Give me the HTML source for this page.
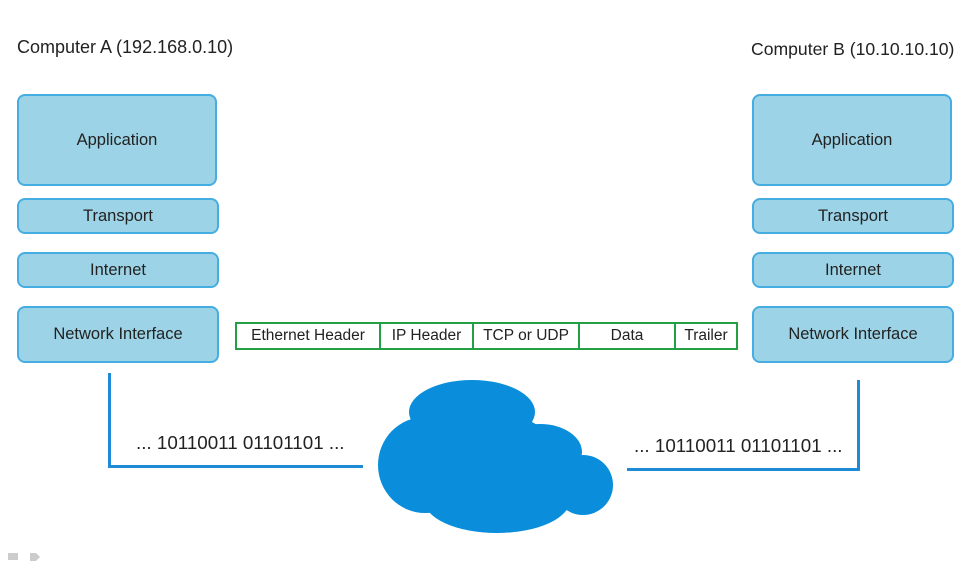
<!DOCTYPE html>
<html><head><style>
body{margin:0;width:968px;height:567px;background:#fff;position:relative;overflow:hidden;font-family:"Liberation Sans",sans-serif;color:#222}
.b{position:absolute;background:#9dd3e6;border:2px solid #45ade2;border-radius:8px;box-sizing:border-box;display:flex;align-items:center;justify-content:center;font-size:16.5px}
.t{position:absolute;font-size:18px;white-space:nowrap}
.p{position:absolute;top:322px;height:28px;border:2.5px solid #23a044;box-sizing:border-box;display:flex}
.p div{border-right:2.5px solid #23a044;display:flex;align-items:center;justify-content:center;font-size:15.5px;box-sizing:border-box}
.p div:last-child{border-right:none}
.l{position:absolute;background:#1f8ad6}
.bin{position:absolute;font-size:18.8px;white-space:nowrap}
</style></head><body>
<div class="t" style="left:17px;top:37px">Computer A (192.168.0.10)</div>
<div class="t" style="left:751px;top:39px;font-size:17.6px">Computer B (10.10.10.10)</div>

<div class="b" style="left:17px;top:94px;width:200px;height:92px">Application</div>
<div class="b" style="left:17px;top:198px;width:202px;height:36px">Transport</div>
<div class="b" style="left:17px;top:252px;width:202px;height:36px">Internet</div>
<div class="b" style="left:17px;top:306px;width:202px;height:57px">Network Interface</div>

<div class="b" style="left:752px;top:94px;width:200px;height:92px">Application</div>
<div class="b" style="left:752px;top:198px;width:202px;height:36px">Transport</div>
<div class="b" style="left:752px;top:252px;width:202px;height:36px">Internet</div>
<div class="b" style="left:752px;top:306px;width:202px;height:57px">Network Interface</div>

<div class="p" style="left:235px;width:503px">
<div style="width:144px">Ethernet Header</div>
<div style="width:93px">IP Header</div>
<div style="width:106px">TCP or UDP</div>
<div style="width:96px">Data</div>
<div style="flex:1">Trailer</div>
</div>

<div class="l" style="left:108px;top:373px;width:3px;height:95px"></div>
<div class="l" style="left:108px;top:465px;width:255px;height:3px"></div>
<div class="l" style="left:857px;top:380px;width:3px;height:91px"></div>
<div class="l" style="left:627px;top:468px;width:233px;height:3px"></div>

<div class="bin" style="left:136px;top:432px">... 10110011 01101101 ...</div>
<div class="bin" style="left:634px;top:435px">... 10110011 01101101 ...</div>

<svg style="position:absolute;left:0;top:0" width="968" height="567">
<g fill="#0a8edb">
<ellipse cx="472" cy="412" rx="63" ry="32"/>
<ellipse cx="425" cy="465" rx="47" ry="48"/>
<ellipse cx="497" cy="500" rx="73" ry="33"/>
<ellipse cx="540" cy="452" rx="42" ry="28"/>
<ellipse cx="583" cy="485" rx="30" ry="30"/>
<ellipse cx="480" cy="460" rx="80" ry="50"/>
</g>
<rect x="8" y="553" width="10" height="7" fill="#ccc"/>
<path d="M30 553h6l4 4-4 4h-6z" fill="#ccc"/>
</svg>
</body></html>
